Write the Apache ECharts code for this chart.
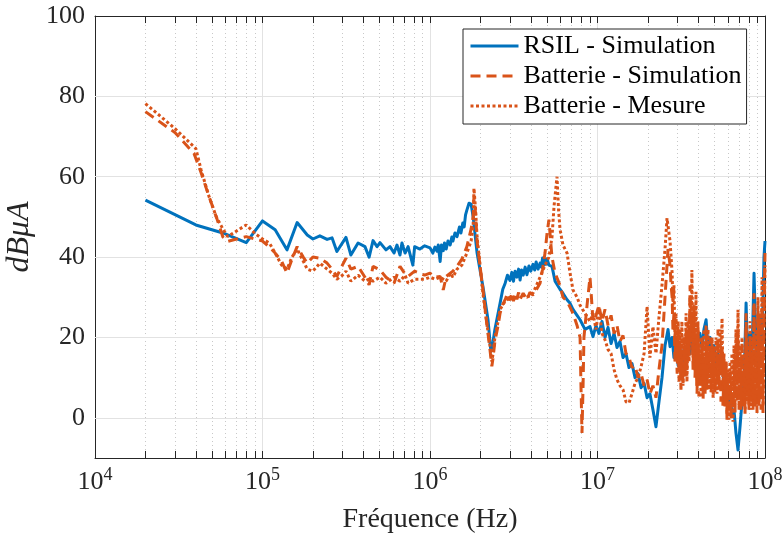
<!DOCTYPE html>
<html>
<head>
<meta charset="utf-8">
<script src="https://cdn.jsdelivr.net/npm/echarts@6/dist/echarts.min.js"></script>
<style>
  html, body { margin: 0; padding: 0; background: #ffffff; }
  #chart { width: 782px; height: 536px; }
</style>
</head>
<body>
<div id="chart"></div>
<script>
// Conducted current spectrum, frequency in Hz, level in dBµA
const seriesNames = ['RSIL - Simulation', 'Batterie - Simulation', 'Batterie - Mesure'];

const rsilSimulation = [
  [2e4,54.2],[4e4,48],[5.8e4,46],[8e4,43.6],[1e5,49],[1.19e5,46.8],[1.4e5,41.8],[1.61e5,48.6],
  [1.85e5,45.5],[2e5,44.5],[2.2e5,45.3],[2.43e5,44.4],[2.6e5,44.8],[2.78e5,41.4],[3.15e5,44.9],
  [3.37e5,40.5],[3.72e5,43.5],[4.09e5,42.6],[4.33e5,40],[4.57e5,44.1],[4.83e5,42.6],[5.03e5,43.6],
  [5.46e5,41.8],[5.77e5,42.6],[6.1e5,41],[6.35e5,43],[6.62e5,40.5],[6.8e5,43.5],[7.1e5,41],
  [7.4e5,42.6],[7.9e5,38],[8.1e5,42.6],[8.7e5,42],[9.3e5,42.8],[1e6,42.3],[1.04e6,41],[1.07e6,42.5],
  [1.1e6,41.5],[1.12e6,43],[1.15e6,38.9],[1.17e6,43],[1.2e6,41.6],[1.22e6,43.5],[1.25e6,42],
  [1.28e6,44],[1.32e6,43],[1.35e6,45],[1.37e6,44],[1.41e6,46],[1.45e6,45.1],[1.5e6,47.5],
  [1.53e6,46],[1.57e6,48.5],[1.6e6,47.5],[1.63e6,50.5],[1.66e6,51.7],[1.71e6,53.4],[1.76e6,53.2],
  [1.81e6,50],[1.91e6,41],[2.07e6,32.7],[2.22e6,24.4],[2.31e6,16.5],[2.38e6,19],[2.44e6,22],
  [2.62e6,28.5],[2.72e6,32],[2.81e6,33.5],[2.9e6,35.5],[3.0e6,34.2],[3.08e6,36.2],[3.15e6,34],
  [3.22e6,36.5],[3.3e6,35],[3.38e6,37],[3.45e6,34.3],[3.52e6,36.8],[3.6e6,35.5],[3.7e6,37.5],
  [3.79e6,35.6],[3.9e6,37.8],[4.0e6,36.5],[4.12e6,38.2],[4.22e6,36.8],[4.3e6,38.8],[4.42e6,37],
  [4.54e6,38.5],[4.62e6,37.5],[4.7e6,39.8],[4.78e6,38],[4.86e6,39.5],[4.93e6,38.2],[5.0e6,39.6],
  [5.13e6,38],[5.35e6,37.7],[5.58e6,34],[5.97e6,32],[6.22e6,31],[6.58e6,29.4],[6.86e6,28.5],
  [7.14e6,27],[7.55e6,25.5],[7.87e6,24.4],[8.42e6,22],[9.02e6,22.7],[9.4e6,20.2],
  [9.8e6,23],[1.02e7,21],[1.064e7,24],[1.109e7,20],[1.156e7,22.5],[1.205e7,18.5],[1.256e7,21],
  [1.307e7,17.5],[1.362e7,19],[1.42e7,15],[1.479e7,16],[1.542e7,12.5],[1.607e7,13.5],[1.675e7,10],
  [1.746e7,11],[1.82e7,7.5],[1.897e7,8.6],[1.977e7,5],[2.056e7,6],[2.143e7,2],[2.234e7,-2.2],
  [2.328e7,4],[2.427e7,10],[2.53e7,18],[2.636e7,22],
  [2.71e7,17.7],[2.79e7,20],[2.86e7,15],[2.94e7,18],[3.03e7,13],[3.11e7,16],[3.19e7,12],[3.28e7,17],
  [3.38e7,14],[3.47e7,19.4],[3.57e7,16],[3.66e7,21],[3.77e7,18],[3.87e7,15],[3.98e7,20],[4.09e7,21],
  [4.21e7,17],[4.32e7,22],[4.45e7,24.4],[4.57e7,17],[4.7e7,20],[4.83e7,14.4],[4.96e7,18],[5.1e7,13],
  [5.24e7,16],[5.38e7,12],[5.54e7,13.6],[5.69e7,8],[5.85e7,10],[6.01e7,4],[6.18e7,6.1],[6.35e7,1],
  [6.53e7,2],[6.71e7,-3.8],[6.9e7,-8],[7.1e7,-2],[7.29e7,4],[7.5e7,8.6],[7.71e7,28.6],[7.92e7,12],
  [8.14e7,21],[8.37e7,16],[8.6e7,36],[8.84e7,18],[9.08e7,14],[9.33e7,25],[9.6e7,18],[9.86e7,40],
  [1e8,44]
];

// Battery branch, below 27 MHz: [frequency, level] pairs
const batterieSimulationLow = [
  [2e4,76.2],[3e4,71],[3.9e4,65.8],[4.3e4,61],[4.8e4,55],[5.3e4,50],[5.8e4,45],[6.2e4,43.9],
  [7e4,44.5],[8e4,45.1],[9e4,44.5],[1e5,44],[1.1e5,42.5],[1.19e5,41],[1.3e5,39],[1.4e5,36],
  [1.5e5,39.5],[1.61e5,42.6],[1.75e5,40],[1.85e5,38.5],[2e5,40],[2.2e5,39.7],[2.43e5,38.5],
  [2.6e5,37],[2.78e5,35.2],[3e5,38],[3.15e5,39.7],[3.37e5,37],[3.72e5,37.7],[4.09e5,35],
  [4.33e5,33.1],[4.57e5,37.7],[5.03e5,36.8],[5.46e5,35],[6.1e5,33.5],[6.62e5,37.7],[7.1e5,35.8],
  [7.4e5,35.2],[8.1e5,36.5],[9.3e5,35.5],[1e6,36],[1.07e6,35],[1.15e6,35.2],[1.2e6,31.8],
  [1.25e6,35.2],[1.37e6,36.5],[1.45e6,37.7],[1.55e6,39.5],[1.66e6,42.6],[1.76e6,47],[1.81e6,50],
  [1.83e6,55],[1.87e6,51],[1.91e6,44],[1.99e6,37.7],[2.07e6,32],[2.16e6,25],[2.28e6,17],
  [2.34e6,12.8],[2.38e6,15],[2.44e6,19],[2.55e6,23],[2.62e6,26],[2.7e6,28],[2.81e6,29.4],
  [2.9e6,31],[3e6,29.2],[3.08e6,31],[3.15e6,29],[3.22e6,30.8],[3.3e6,29.5],[3.38e6,31.2],
  [3.45e6,29.5],[3.6e6,31],[3.79e6,29.4],[3.95e6,31.2],[4.12e6,30.5],[4.3e6,31.8],[4.54e6,33.5],
  [4.7e6,37],[4.86e6,41],[5.0e6,46],[5.13e6,49.3],[5.25e6,44],
  [5.35e6,40],[5.58e6,36],[5.97e6,33],[6.22e6,30],[6.58e6,29],[6.86e6,27.5],[7.14e6,26],
  [7.55e6,23],[7.87e6,20],[7.95e6,10],[8.08e6,-3.8],[8.2e6,8],[8.3e6,20],[8.66e6,28],[9.02e6,35],
  [9.2e6,30],[9.4e6,24],
  [9.8e6,25.5],[1.02e7,28],[1.064e7,24],[1.109e7,27],[1.156e7,23],[1.205e7,25.5],[1.256e7,21],
  [1.307e7,23],[1.362e7,19],[1.42e7,20.5],[1.479e7,16],[1.542e7,15],[1.607e7,12.5],[1.675e7,13],
  [1.746e7,10],[1.82e7,11],[1.897e7,8],[1.977e7,9.5],[2.056e7,6],[2.143e7,8],[2.234e7,5],
  [2.328e7,12],[2.427e7,18],[2.53e7,30],[2.636e7,42]
];

const batterieMesureLow = [
  [2e4,78.2],[3e4,72],[4e4,67],[4.3e4,61.7],[4.8e4,55],[5.3e4,50],[5.8e4,47],[6.2e4,45.1],
  [7e4,46.5],[8e4,48],[9e4,45.9],[1e5,44.5],[1.1e5,43.5],[1.19e5,41],[1.3e5,38],[1.4e5,37],
  [1.5e5,40],[1.61e5,42],[1.75e5,39],[1.85e5,37],[2e5,36.5],[2.2e5,38.5],[2.43e5,37],[2.6e5,36],
  [2.78e5,34.5],[3e5,35.5],[3.15e5,36.5],[3.37e5,34],[3.72e5,35.5],[4.09e5,34],[4.33e5,34.5],
  [4.57e5,34],[5.03e5,35],[5.46e5,33.5],[6.1e5,35],[6.62e5,34],[7.1e5,35.5],[7.4e5,33.5],
  [8.1e5,34.5],[9.3e5,34.5],[1e6,35],[1.07e6,34.5],[1.15e6,35],[1.25e6,34],[1.32e6,36],[1.37e6,35],
  [1.45e6,37],[1.55e6,38],[1.66e6,41],[1.76e6,44],[1.81e6,48],[1.83e6,57.1],[1.87e6,52],[1.91e6,45],
  [1.99e6,38],[2.07e6,31],[2.16e6,25],[2.28e6,18],[2.34e6,14],[2.38e6,16],[2.44e6,20],[2.55e6,24],
  [2.62e6,27],[2.81e6,29],[3e6,30],[3.3e6,30],[3.6e6,30.5],[3.79e6,30],[4.12e6,31],[4.54e6,35],
  [4.86e6,38],[5.13e6,40],[5.35e6,45],[5.5e6,52.6],[5.73e6,60],[5.85e6,52],[5.97e6,47],[6.22e6,43],
  [6.58e6,41],[6.86e6,36],[7.14e6,31.8],[7.55e6,30],[7.87e6,28],[8.42e6,26],[9.02e6,24],[9.4e6,26],
  [9.8e6,22],[1.02e7,27.5],[1.064e7,21],[1.109e7,19.4],[1.156e7,17],[1.205e7,16],[1.256e7,12],
  [1.307e7,9.5],[1.362e7,8],[1.42e7,7],[1.479e7,4],[1.542e7,3.7],[1.607e7,6],[1.675e7,8.6],
  [1.746e7,10],[1.82e7,12.7],[1.897e7,16],[1.977e7,27.7],[2.056e7,15],[2.143e7,22.7],[2.234e7,16],
  [2.328e7,25],[2.427e7,33],[2.53e7,42],[2.6e7,49.7]
];

// Battery branch, 27 MHz to 100 MHz: shared frequency grid and one level list per trace
const hfFreq = [
  2.71e7,2.75e7,2.79e7,2.82e7,2.86e7,2.90e7,2.94e7,2.99e7,3.03e7,3.07e7,
  3.11e7,3.15e7,3.19e7,3.24e7,3.28e7,3.33e7,3.38e7,3.42e7,3.47e7,3.52e7,
  3.57e7,3.61e7,3.66e7,3.72e7,3.77e7,3.82e7,3.87e7,3.93e7,3.98e7,4.03e7,
  4.09e7,4.15e7,4.21e7,4.27e7,4.32e7,4.39e7,4.45e7,4.51e7,4.57e7,4.63e7,
  4.70e7,4.76e7,4.83e7,4.90e7,4.96e7,5.03e7,5.10e7,5.17e7,5.24e7,5.31e7,
  5.38e7,5.46e7,5.54e7,5.61e7,5.69e7,5.77e7,5.85e7,5.93e7,6.01e7,6.09e7,
  6.18e7,6.26e7,6.35e7,6.44e7,6.53e7,6.62e7,6.71e7,6.80e7,6.90e7,7.00e7,
  7.10e7,7.19e7,7.29e7,7.40e7,7.50e7,7.60e7,7.71e7,7.82e7,7.92e7,8.02e7,
  8.14e7,8.25e7,8.37e7,8.48e7,8.60e7,8.71e7,8.84e7,8.96e7,9.08e7,9.21e7,
  9.33e7,9.47e7,9.60e7,9.73e7,9.86e7,1e8
];
const hfSimulation = [
  38,33,30,22,26,14,20,11,22,9,
  18,7,16,8.6,20,10,22,12,24,15,
  33,20,26,12,28,10,20,6,24,5.3,
  16,8,20,4.5,18,10,23,7,18,11,
  20,6,15,9.5,18,6,14,9,22,7,
  16,4,18,3,12,2.8,14,-0.5,10,2,
  12,-0.5,9,2.8,14,1,18,4,22,2,
  14,6,18,2.8,12,1,26,5,14,2,
  20,4,16,2,31,2.8,18,1.2,26,3,
  22,2,30,1.2,24,41
];
const hfMesure = [
  44,40,36,28,33,20,26,15,24,12,
  22,10,24,8,20,12,26,9,22,14,
  30,18,36.8,15,28,12,31.4,8,22,10,
  20,5,18,8,22,6,18,10,22,7,
  18,9,20,5,16,8,20,6,18,9,
  22,12,24.8,8,16,3,14,1,12,-0.5,
  14,2,16,-1,18,4,22,6,26.9,3,
  18,2,20,5,16,2,22,4,18,3,
  24,2,20,4,28,3,22,5,30,4,
  26,6,35,3,20,38
];

// Axis ranges and tick values
const xMin = 1e4, xMax = 1e8;
const yMin = -10, yMax = 100;
const yTicks = [0, 20, 40, 60, 80, 100];
const xMinorTicks = [];
for (let e = 4; e < 8; e++) {
  for (let m = 2; m <= 9; m++) xMinorTicks.push(m * Math.pow(10, e));
}

const batterieSimulation = batterieSimulationLow.concat(hfFreq.map(function (f, i) { return [f, hfSimulation[i]]; }));
const batterieMesure = batterieMesureLow.concat(hfFreq.map(function (f, i) { return [f, hfMesure[i]]; }));

const FONT = 'Liberation Serif';
const AXIS_COLOR = '#262626';
const BLUE = '#0072BD';
const ORANGE = '#D95319';

// Minor decade grid, horizontal major grid, and minor ticks on the top and bottom edges
const gridLines = [];
xMinorTicks.forEach(function (f) {
  gridLines.push({ xAxis: f, lineStyle: { type: [1, 3], color: '#c8c8c8', width: 1 } });
});
yTicks.forEach(function (v) {
  if (v > yMin && v < yMax) gridLines.push({ yAxis: v, lineStyle: { type: 'solid', color: '#e2e2e2', width: 1 } });
});
const tickLen = 1.75; // in dBµA units (~7 px)
const minorTickSegments = [];
xMinorTicks.forEach(function (f) {
  minorTickSegments.push([
    { coord: [f, yMin], lineStyle: { type: 'solid', color: AXIS_COLOR, width: 1 } },
    { coord: [f, yMin + tickLen] }
  ]);
  minorTickSegments.push([
    { coord: [f, yMax], lineStyle: { type: 'solid', color: AXIS_COLOR, width: 1 } },
    { coord: [f, yMax - tickLen] }
  ]);
});

const chart = echarts.init(document.getElementById('chart'), null, { renderer: 'canvas' });

const logLabel = function (v) {
  return '{b|10}{s|' + Math.round(Math.log10(v)) + '}';
};

const sideAxisLine = { show: true, onZero: false, lineStyle: { color: AXIS_COLOR, width: 1 } };

chart.setOption({
  animation: false,
  backgroundColor: '#ffffff',
  grid: { left: 95, right: 17, top: 16, bottom: 78, containLabel: false, outerBoundsMode: 'none' },
  legend: {
    data: seriesNames,
    orient: 'vertical',
    left: 463,
    top: 29,
    padding: [2, 5, 3, 6],
    itemGap: 0,
    itemWidth: 48,
    itemHeight: 14,
    backgroundColor: '#ffffff',
    borderColor: AXIS_COLOR,
    borderWidth: 1,
    itemStyle: { color: 'rgba(0,0,0,0)', borderWidth: 0, opacity: 0 },
    lineStyle: { width: 3 },
    textStyle: { fontFamily: FONT, fontSize: 26, color: '#000', lineHeight: 30 }
  },
  xAxis: [
    {
      type: 'log', logBase: 10, min: xMin, max: xMax,
      name: 'Fréquence (Hz)', nameLocation: 'middle', nameGap: 48,
      nameTextStyle: { fontFamily: FONT, fontSize: 28, color: '#262626' },
      axisLine: sideAxisLine,
      axisTick: { inside: true, length: 7, lineStyle: { color: AXIS_COLOR } },
      axisLabel: {
        formatter: logLabel, margin: 8, color: '#262626',
        rich: {
          b: { fontFamily: FONT, fontSize: 26, color: '#262626' },
          s: { fontFamily: FONT, fontSize: 18, color: '#262626', padding: [0, 0, 14, 0] }
        }
      },
      splitLine: { show: true, lineStyle: { color: '#e2e2e2', width: 1 } }
    },
    {
      type: 'log', logBase: 10, min: xMin, max: xMax, position: 'top',
      axisLine: sideAxisLine,
      axisTick: { inside: true, length: 7, lineStyle: { color: AXIS_COLOR } },
      axisLabel: { show: false },
      splitLine: { show: false }
    }
  ],
  yAxis: [
    {
      type: 'value', min: yMin, max: yMax,
      name: 'dBμA', nameLocation: 'middle', nameGap: 57, nameRotate: 90,
      nameTextStyle: { fontFamily: FONT, fontSize: 32, fontStyle: 'italic', color: '#262626' },
      axisLine: sideAxisLine,
      axisTick: { show: true, inside: true, length: 7, customValues: yTicks, lineStyle: { color: AXIS_COLOR } },
      axisLabel: { customValues: yTicks, margin: 10, fontFamily: FONT, fontSize: 26, color: '#262626' },
      splitLine: { show: false }
    },
    {
      type: 'value', min: yMin, max: yMax, position: 'right',
      axisLine: sideAxisLine,
      axisTick: { show: true, inside: true, length: 7, customValues: yTicks, lineStyle: { color: AXIS_COLOR } },
      axisLabel: { show: false },
      splitLine: { show: false }
    }
  ],
  series: [
    {
      name: 'grid-helper', type: 'line', z: 1, silent: true,
      data: [[xMin, yMin]], showSymbol: false, symbol: 'none', lineStyle: { width: 0 },
      markLine: {
        z: 1, silent: true, symbol: ['none', 'none'], label: { show: false },
        animation: false,
        emphasis: { disabled: true },
        data: gridLines.concat(minorTickSegments)
      }
    },
    {
      name: seriesNames[0], type: 'line', z: 3, data: rsilSimulation,
      symbol: 'none', showSymbol: false, color: BLUE,
      lineStyle: { color: BLUE, width: 3, join: 'round' }
    },
    {
      name: seriesNames[1], type: 'line', z: 4, data: batterieSimulation,
      symbol: 'none', showSymbol: false, color: ORANGE,
      lineStyle: { color: ORANGE, width: 3, type: [10, 6] }
    },
    {
      name: seriesNames[2], type: 'line', z: 5, data: batterieMesure,
      symbol: 'none', showSymbol: false, color: ORANGE,
      lineStyle: { color: ORANGE, width: 3, type: [3, 2.5] }
    }
  ]
});
</script>
</body>
</html>
